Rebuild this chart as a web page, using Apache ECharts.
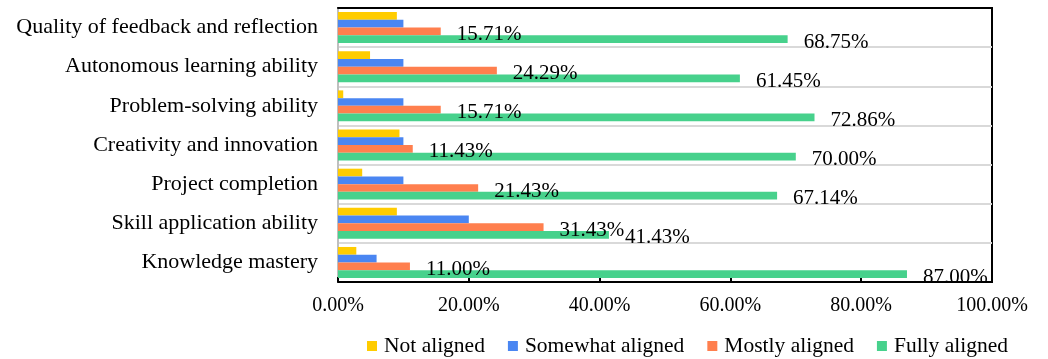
<!DOCTYPE html>
<html>
<head>
<meta charset="utf-8">
<script src="https://cdn.jsdelivr.net/npm/echarts@6/dist/echarts.min.js"></script>
<style>
  html, body { margin: 0; padding: 0; background: #fff; }
  #chart { width: 1048px; height: 359px; }
</style>
</head>
<body>
<div id="chart"></div>
<script>
// Categories listed bottom to top (category axis starts at the bottom)
const categories = [
  'Knowledge mastery',
  'Skill application ability',
  'Project completion',
  'Creativity and innovation',
  'Problem-solving ability',
  'Autonomous learning ability',
  'Quality of feedback and reflection'
];
const seriesNames = ['Not aligned', 'Somewhat aligned', 'Mostly aligned', 'Fully aligned'];
const notAligned      = [2.8, 9.0, 3.7, 9.4, 0.8, 4.9, 9.0];
const somewhatAligned = [5.9, 20.0, 10.0, 10.0, 10.0, 10.0, 10.0];
const mostlyAligned   = [11.00, 31.43, 21.43, 11.43, 15.71, 24.29, 15.71];
const fullyAligned    = [87.00, 41.43, 67.14, 70.00, 72.86, 61.45, 68.75];
const xTicks = [0, 20, 40, 60, 80, 100];

const colors = ['#FFCC00', '#4A86F2', '#FF7F4E', '#47D18C'];
const FONT = '"Liberation Serif", "Times New Roman", serif';

const pct = v => Number(v).toFixed(2) + '%';

const valueLabel = {
  show: true,
  position: 'right',
  distance: 16,
  offset: [0, 3],
  color: '#000',
  fontFamily: FONT,
  fontSize: 21,
  formatter: p => pct(p.value)
};

function barSeries(name, data, color, withLabel) {
  return {
    name: name,
    type: 'bar',
    data: data,
    barGap: '0%',
    barCategoryGap: '21%',
    itemStyle: { color: color },
    label: withLabel ? valueLabel : { show: false },
    z: 3
  };
}

const chart = echarts.init(document.getElementById('chart'), null, { renderer: 'canvas' });
chart.setOption({
  animation: false,
  backgroundColor: '#fff',
  grid: {
    left: 338, right: 56, top: 8, bottom: 77,
    show: true, borderColor: '#000', borderWidth: 2, backgroundColor: 'transparent'
  },
  legend: {
    data: seriesNames,
    left: 362,
    top: 330,
    icon: 'rect',
    itemWidth: 10,
    itemHeight: 10,
    itemGap: 23,
    textStyle: { fontFamily: FONT, fontSize: 21.5, color: '#000', padding: [0, 0, 0, 2] }
  },
  xAxis: [
    {
      type: 'value',
      min: xTicks[0],
      max: xTicks[xTicks.length - 1],
      interval: 20,
      axisLine: { show: true, lineStyle: { color: '#000', width: 2 } },
      axisTick: { show: true, inside: true, length: 5, lineStyle: { color: '#000', width: 2 } },
      splitLine: { show: false },
      axisLabel: {
        margin: 14,
        color: '#000',
        fontFamily: FONT,
        fontSize: 20,
        formatter: v => pct(v)
      }
    },
    {
      // top frame line of the plot area
      type: 'value',
      position: 'top',
      min: xTicks[0],
      max: xTicks[xTicks.length - 1],
      interval: 20,
      axisLine: { show: true, lineStyle: { color: '#000', width: 2 } },
      axisTick: { show: false },
      axisLabel: { show: false },
      splitLine: { show: false }
    }
  ],
  yAxis: {
    type: 'category',
    data: categories,
    axisLine: { show: true, lineStyle: { color: '#BFBFBF', width: 2 } },
    axisTick: { show: false },
    splitLine: { show: true, lineStyle: { color: '#D9D9D9', width: 2 } },
    axisLabel: { margin: 20, color: '#000', fontFamily: FONT, fontSize: 22 }
  },
  series: [
    barSeries(seriesNames[0], notAligned, colors[0], false),
    barSeries(seriesNames[1], somewhatAligned, colors[1], false),
    barSeries(seriesNames[2], mostlyAligned, colors[2], true),
    barSeries(seriesNames[3], fullyAligned, colors[3], true)
  ]
});
</script>
</body>
</html>
